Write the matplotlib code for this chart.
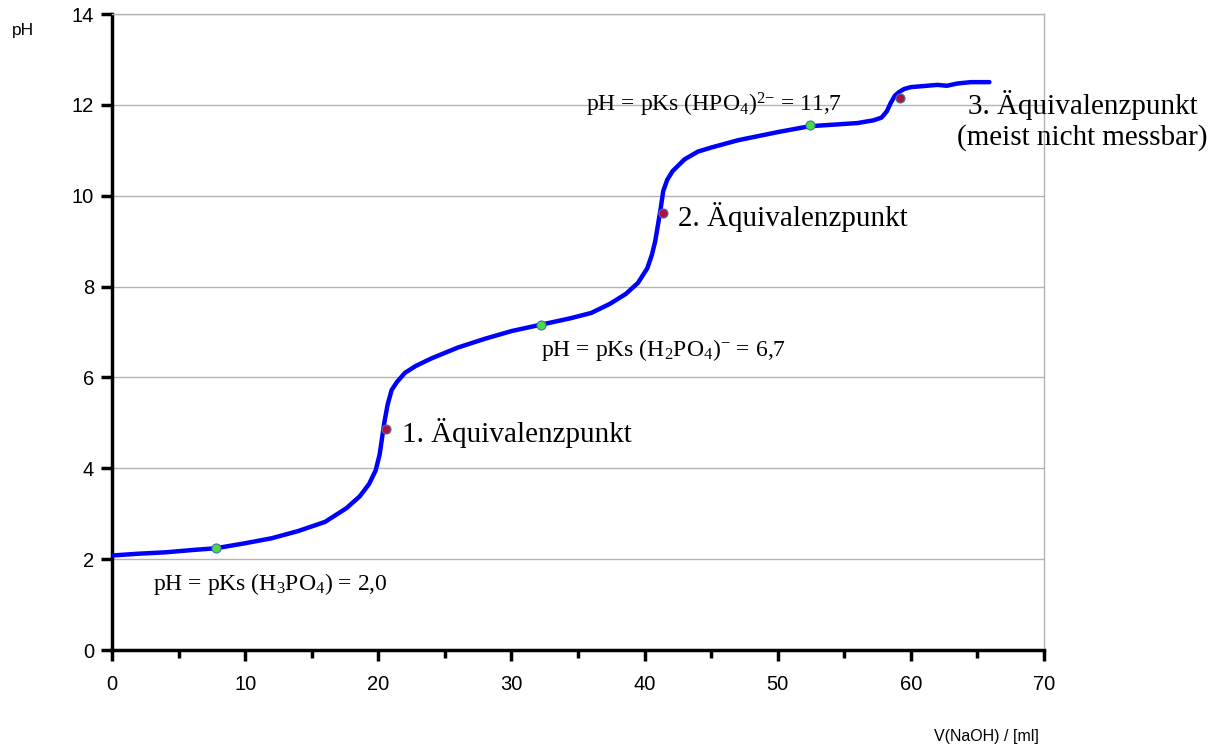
import matplotlib
matplotlib.use("Agg")
import matplotlib.pyplot as plt

# Titration curve of phosphoric acid with NaOH
volume_ml = [0, 2, 4, 6, 7.8, 10, 12, 14, 16, 17.6, 18.6, 19.3, 19.8, 20.1, 20.3,
             20.45, 20.7, 21.0, 21.4, 22.0, 22.8, 24.0, 26.0, 28, 30, 32.2, 34.4,
             36, 37.4, 38.6, 39.5, 40.2, 40.55, 40.8, 41.0, 41.2, 41.4, 41.7, 42.1,
             43.0, 44.0, 45.0, 47.0, 50.0, 52.4, 54.5, 56.0, 57.2, 57.8, 58.2, 58.5,
             58.8, 59.1, 59.5, 60.0, 61.2, 62.0, 62.7, 63.5, 64.5, 65.9]
ph_values = [2.08, 2.12, 2.15, 2.2, 2.24, 2.35, 2.46, 2.62, 2.82, 3.12, 3.38, 3.65,
             3.95, 4.3, 4.7, 5.0, 5.4, 5.72, 5.9, 6.1, 6.25, 6.42, 6.66, 6.85, 7.02,
             7.16, 7.3, 7.42, 7.62, 7.84, 8.08, 8.4, 8.7, 9.0, 9.35, 9.7, 10.1, 10.35,
             10.54, 10.8, 10.97, 11.06, 11.22, 11.4, 11.53, 11.57, 11.6, 11.66, 11.72,
             11.86, 12.05, 12.2, 12.28, 12.35, 12.39, 12.42, 12.44, 12.42, 12.47,
             12.5, 12.5]

# Equivalence points (red) and half-equivalence points pH = pKs (green)
equiv_x = [20.6, 41.4, 59.2]
equiv_y = [4.87, 9.62, 12.15]
half_x = [7.8, 32.2, 52.4]
half_y = [2.24, 7.15, 11.55]

x_ticks = [0, 10, 20, 30, 40, 50, 60, 70]
y_ticks = [0, 2, 4, 6, 8, 10, 12, 14]

plt.rcParams['mathtext.fontset'] = 'custom'
plt.rcParams['mathtext.rm'] = 'Liberation Serif'
plt.rcParams['mathtext.it'] = 'Liberation Serif:italic'

fig = plt.figure(figsize=(12.21, 7.49), dpi=100)
ax = fig.add_axes([112 / 1221, 99 / 749, 932 / 1221, 636 / 749])

ax.set_xlim(0, 70)
ax.set_ylim(0, 14)
ax.set_xticks(x_ticks)
ax.set_xticks([5, 15, 25, 35, 45, 55, 65], minor=True)
ax.set_yticks(y_ticks)
ax.set_xticklabels([str(v) for v in x_ticks], family='Liberation Sans', fontsize=14.5)
ax.set_yticklabels([str(v) for v in y_ticks], family='Liberation Sans', fontsize=14.5)
ax.tick_params(axis='both', which='both', direction='out', width=2.5, color='black')
ax.tick_params(axis='x', which='major', length=8, pad=10)
ax.tick_params(axis='x', which='minor', length=6)
ax.tick_params(axis='y', which='major', length=8, pad=5)

ax.yaxis.grid(True, color='#b3b3b3', linewidth=1)
ax.set_axisbelow(True)
for side in ('left', 'bottom'):
    ax.spines[side].set_linewidth(2.5)
    ax.spines[side].set_color('black')
for side in ('top', 'right'):
    ax.spines[side].set_linewidth(1)
    ax.spines[side].set_color('#b3b3b3')

ax.plot(volume_ml, ph_values, color='#0000ff', linewidth=3.2,
        solid_capstyle='round', solid_joinstyle='round', zorder=3)
ax.plot(half_x, half_y, linestyle='none', marker='o', markersize=6.5,
        markerfacecolor='#44dd44', markeredgecolor='#4a6ea8', markeredgewidth=0.8,
        zorder=4)
ax.plot(equiv_x, equiv_y, linestyle='none', marker='o', markersize=6.5,
        markerfacecolor='#b0103f', markeredgecolor='#4a6ea8', markeredgewidth=0.8,
        zorder=4)

serif = 'Liberation Serif'
small = 17
large = 21
ax.text(3.08, 1.45, r'pH = pKs (H$_\mathrm{3}$PO$_\mathrm{4}$) = 2,0',
        family=serif, fontsize=small, va='center', ha='left')
ax.text(32.2, 6.6, r'pH = pKs (H$_\mathrm{2}$PO$_\mathrm{4}$)$^{{-}}$ = 6,7',
        family=serif, fontsize=small, va='center', ha='left')
ax.text(35.6, 12.0, r'pH = pKs (HPO$_\mathrm{4}$)$^{\mathrm{2}{-}}$ = 11,7',
        family=serif, fontsize=small, va='center', ha='left')
ax.text(21.8, 4.78, '1. Äquivalenzpunkt', family=serif, fontsize=large,
        va='center', ha='left')
ax.text(42.5, 9.53, '2. Äquivalenzpunkt', family=serif, fontsize=large,
        va='center', ha='left')
ax.text(72.9, 11.65, '3. Äquivalenzpunkt\n(meist nicht messbar)', family=serif,
        fontsize=large, va='center', ha='center', multialignment='center',
        linespacing=1.2, clip_on=False)

fig.text(12 / 1221, 1 - 30 / 749, 'pH', family='Liberation Sans', fontsize=12.5,
         ha='left', va='center')
fig.text(986 / 1221, 1 - 737 / 749, 'V(NaOH) / [ml]', family='Liberation Sans',
         fontsize=11.5, ha='center', va='center')

fig.savefig('out.png', dpi=100)
